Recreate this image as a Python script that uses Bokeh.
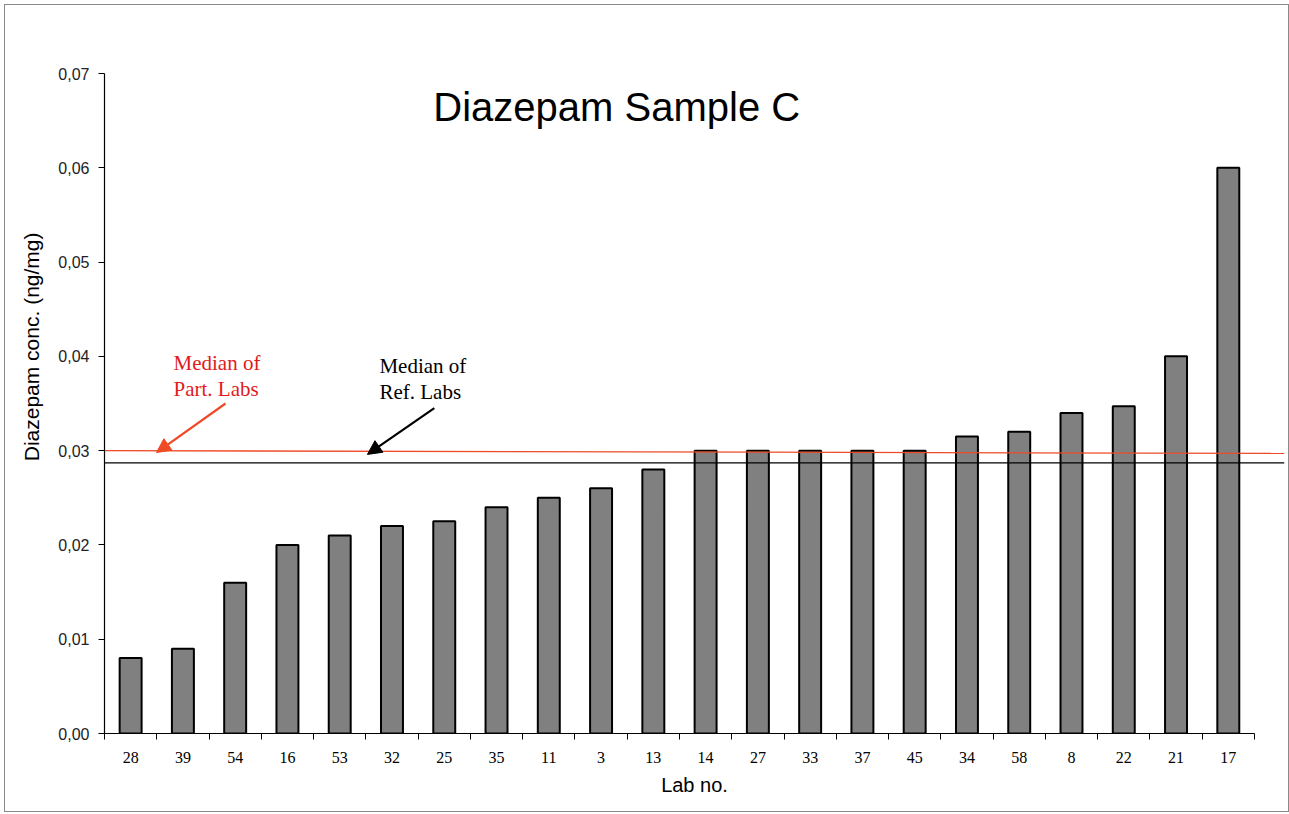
import math
from bokeh.plotting import figure
from bokeh.models import (Range1d, FixedTicker, CustomJSTickFormatter, Label, Title,
                          Arrow, NormalHead, ColumnDataSource)
from bokeh.embed import file_html
from bokeh.resources import INLINE

# ---- data ----
labs = ["28", "39", "54", "16", "53", "32", "25", "35", "11", "3", "13",
        "14", "27", "33", "37", "45", "34", "58", "8", "22", "21", "17"]
conc = [0.008, 0.009, 0.016, 0.020, 0.021, 0.022, 0.0225, 0.024, 0.025, 0.026, 0.028,
        0.030, 0.030, 0.030, 0.030, 0.030, 0.0315, 0.032, 0.034, 0.0347, 0.040, 0.060]
y_ticks = [0.00, 0.01, 0.02, 0.03, 0.04, 0.05, 0.06, 0.07]
median_part = [0.0300, 0.0297]   # left / right end of the drawn red line
median_ref = 0.0287
title_text = "Diazepam Sample C"
y_label = "Diazepam conc. (ng/mg)"
x_label = "Lab no."
part_text = "Median of\nPart. Labs"
ref_text = "Median of\nRef. Labs"

n = len(labs)
FRAME_W = 1180
PX_PER_UNIT = 52.27
x_end = FRAME_W / PX_PER_UNIT
centers = [i + 0.5 for i in range(n)]

RED_LINE = "#ee4a26"
RED_TEXT = "#e01b1b"

p = figure(frame_width=FRAME_W, frame_height=660, output_backend="svg",
           toolbar_location=None,
           x_range=Range1d(0, x_end), y_range=Range1d(0, 0.07),
           min_border_left=98, min_border_top=68, min_border_bottom=78,
           min_border_right=4)
p.styles = {"border": "1px solid #8a8a8a", "margin": "4px 0 0 4px"}
p.outline_line_color = None
p.xgrid.visible = False
p.ygrid.visible = False
p.background_fill_color = "white"
p.border_fill_color = "white"

src = ColumnDataSource(dict(x=centers, top=conc, lab=labs))
p.vbar(x="x", top="top", bottom=0, width=0.42, source=src,
       fill_color="#808080", line_color="black", line_width=2)

# median lines
p.segment(x0=[0], y0=[median_part[0]], x1=[x_end], y1=[median_part[1]],
          line_color=RED_LINE, line_width=1.3)
p.segment(x0=[0], y0=[median_ref], x1=[x_end], y1=[median_ref],
          line_color="black", line_width=1.2)

# x axis
xa = p.xaxis[0]
xa.bounds = (0, n)
xa.ticker = FixedTicker(ticks=centers, minor_ticks=list(range(n + 1)))
xa.formatter = CustomJSTickFormatter(args=dict(labels=labs),
                                     code="return labels[Math.floor(tick)];")
xa.major_tick_out = 0
xa.major_tick_in = 0
xa.minor_tick_out = 6
xa.minor_tick_in = 0
xa.minor_tick_line_color = "black"
xa.axis_line_color = "black"
xa.axis_line_width = 1.2
xa.major_label_text_font = "Liberation Serif"
xa.major_label_text_font_size = "16px"
xa.major_label_text_color = "black"
xa.major_label_standoff = 12
xa.axis_label = x_label
xa.axis_label_text_font = "Liberation Sans"
xa.axis_label_text_font_size = "20px"
xa.axis_label_text_font_style = "normal"
xa.axis_label_text_color = "black"
xa.axis_label_standoff = 8

# y axis
ya = p.yaxis[0]
ya.bounds = (0, 0.07)
ya.ticker = FixedTicker(ticks=y_ticks, minor_ticks=[])
ya.formatter = CustomJSTickFormatter(code="return tick.toFixed(2).replace('.', ',');")
ya.major_tick_out = 6
ya.major_tick_in = 0
ya.major_tick_line_color = "black"
ya.axis_line_color = "black"
ya.axis_line_width = 1.2
ya.major_label_text_font = "Liberation Sans"
ya.major_label_text_font_size = "16px"
ya.major_label_text_color = "#222222"
ya.major_label_standoff = 9

# y-axis title, placed in the left panel (shifted towards the top like the original)
p.add_layout(Title(text=y_label, align="right", offset=159, standoff=25,
                   text_font="Liberation Sans", text_font_size="21px",
                   text_font_style="normal", text_color="black"), "left")

# title
p.add_layout(Label(x=9.8, y=0.0664, text=title_text, text_align="center",
                   text_baseline="middle", text_font="Liberation Sans",
                   text_font_size="40px", text_color="black"))

# annotations
p.add_layout(Label(x=1.32, y=0.0406, text=part_text, text_align="left",
                   text_baseline="top", text_font="Liberation Serif",
                   text_font_size="21px", text_color=RED_TEXT, text_line_height=1.1))
p.add_layout(Label(x=5.26, y=0.0403, text=ref_text, text_align="left",
                   text_baseline="top", text_font="Liberation Serif",
                   text_font_size="21px", text_color="black", text_line_height=1.1))

p.add_layout(Arrow(x_start=2.315, y_start=0.0350, x_end=0.995, y_end=0.0298,
                   line_color=RED_LINE, line_width=2.2,
                   end=NormalHead(size=14, fill_color=RED_LINE, line_color=RED_LINE)))
p.add_layout(Arrow(x_start=6.31, y_start=0.0345, x_end=5.03, y_end=0.0296,
                   line_color="black", line_width=2.2,
                   end=NormalHead(size=14, fill_color="black", line_color="black")))

open("out.html", "w").write(file_html(p, INLINE))
